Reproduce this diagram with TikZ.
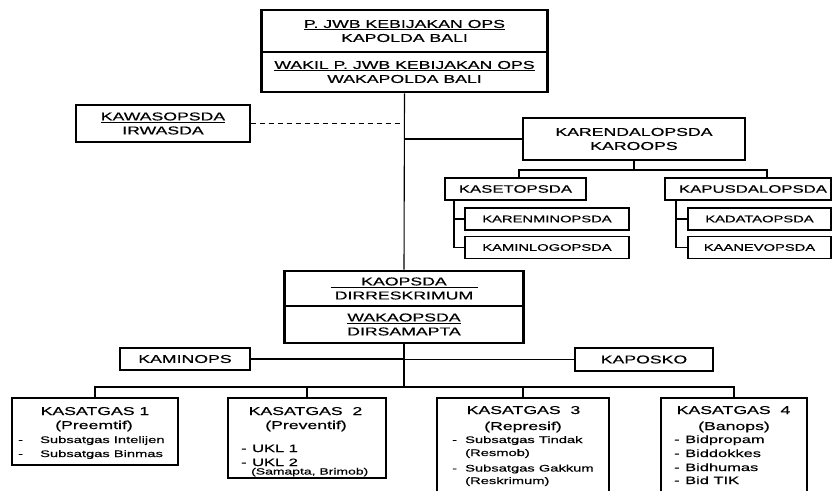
\documentclass[tikz,border=0pt]{standalone}
\usepackage{fontspec}
\setmainfont[FakeStretch=1.55,FakeBold=0.5]{Liberation Sans}
\newcommand\fsA{\fontsize{11.4}{14}\selectfont}
\newcommand\fsK{\fontsize{10.8}{13}\selectfont}
\newcommand\fsB{\fontsize{10.6}{13}\selectfont}
\newcommand\fsC{\fontsize{9.5}{12}\selectfont}
\newcommand\fsS{\fontsize{9}{11}\selectfont}
\begin{document}
\begin{tikzpicture}[x=1pt,y=-1pt,
  box/.style={draw, line width=1.3pt, inner sep=0pt, align=center, font=\fsA},
  thickbox/.style={box, line width=2.6pt},
  lbl/.style={inner sep=0pt},
  conn/.style={line width=1.1pt}]
\path[use as bounding box, fill=white] (0,0) rectangle (832,490);
\clip (0,0) rectangle (832,490);

% top box
\node[thickbox, minimum width=286, minimum height=42] (top1) at (404.5,31) {\underline{P. JWB KEBIJAKAN OPS}\\KAPOLDA BALI};
\node[thickbox, minimum width=286, minimum height=40] (top2) at (404.5,72) {\underline{WAKIL P. JWB KEBIJAKAN OPS}\\WAKAPOLDA BALI};

% inspection
\node[box, minimum width=174, minimum height=37] (wasops) at (163,123.5) {\underline{KAWASOPSDA}\\IRWASDA};

% rendal
\node[thickbox, minimum width=222, minimum height=42] (rendal) at (634,139) {KARENDALOPSDA\\KAROOPS};
\node[box, font=\fsK, minimum width=141, minimum height=22] (setops) at (515.5,189) {KASETOPSDA};
\node[box, font=\fsK, minimum width=166, minimum height=22] (pusdal) at (748,189) {\hspace*{10pt}KAPUSDALOPSDA};
\node[box, font=\fsC, minimum width=164, minimum height=22] (renmin) at (547,219) {KARENMINOPSDA};
\node[box, font=\fsC, minimum width=164, minimum height=22] (minlog) at (547,247.5) {KAMINLOGOPSDA};
\node[box, font=\fsC, minimum width=143, minimum height=22] (datao) at (759.5,219) {KADATAOPSDA};
\node[box, font=\fsC, minimum width=143, minimum height=22] (anev) at (759.5,247.5) {KAANEVOPSDA};

% kaops
\node[thickbox, minimum width=239, minimum height=35] (kaops) at (404,288.5) {\underline{\makebox[147pt]{KAOPSDA}}\\DIRRESKRIMUM};
\node[thickbox, minimum width=239, minimum height=37] (wakaops) at (404,324.5) {\underline{WAKAOPSDA}\\DIRSAMAPTA};

\node[box, minimum width=130, minimum height=22] (minops) at (185,359) {KAMINOPS};
\node[box, minimum width=138, minimum height=23] (posko) at (644,359.5) {KAPOSKO};

% satgas boxes
\node[box, minimum width=166, minimum height=67] (sat1) at (95,431.5) {};
\node[box, minimum width=158, minimum height=80] (sat2) at (307,438) {};
\node[box, minimum width=172, minimum height=120] (sat3) at (523,458) {};
\node[box, minimum width=146, minimum height=120] (sat4) at (734,458) {};

% satgas texts
\node[lbl, font=\fsA, anchor=base] (s1a) at (95,415) {KASATGAS 1};
\node[lbl, font=\fsA, anchor=base] (s1b) at (94,429) {(Preemtif)};
\node[lbl, font=\fsC, anchor=base west] (s1c) at (18,443) {\makebox[22pt][l]{-}Subsatgas Intelijen};
\node[lbl, font=\fsC, anchor=base west] (s1d) at (18,457) {\makebox[22pt][l]{-}Subsatgas Binmas};

\node[lbl, font=\fsA, anchor=base] (s2a) at (305.5,415) {KASATGAS\ \ 2};
\node[lbl, font=\fsA, anchor=base] (s2b) at (306,429) {(Preventif)};
\node[lbl, font=\fsB, anchor=base west] (s2c) at (241,452) {\makebox[11pt][l]{-}UKL 1};
\node[lbl, font=\fsB, anchor=base west] (s2d) at (241,466) {\makebox[11pt][l]{-}UKL 2};
\node[lbl, font=\fsS, anchor=base west] (s2e) at (251,474.5) {(Samapta, Brimob)};

\node[lbl, font=\fsA, anchor=base] (s3a) at (523.5,414) {KASATGAS\ \ 3};
\node[lbl, font=\fsA, anchor=base] (s3b) at (523,430) {(Represif)};
\node[lbl, font=\fsC, anchor=base west] (s3c) at (452,443) {\makebox[13pt][l]{-}Subsatgas Tindak};
\node[lbl, font=\fsC, anchor=base west] (s3d) at (465,456) {(Resmob)};
\node[lbl, font=\fsC, anchor=base west] (s3e) at (452,471.5) {\makebox[13pt][l]{-}Subsatgas Gakkum};
\node[lbl, font=\fsC, anchor=base west] (s3f) at (465,484) {(Reskrimum)};

\node[lbl, font=\fsA, anchor=base] (s4a) at (733.5,414) {KASATGAS\ \ 4};
\node[lbl, font=\fsA, anchor=base] (s4b) at (734,430) {(Banops)};
\node[lbl, font=\fsB, anchor=base west] (s4c) at (674,443) {\makebox[11pt][l]{-}Bidpropam};
\node[lbl, font=\fsB, anchor=base west] (s4d) at (674,457) {\makebox[11pt][l]{-}Biddokkes};
\node[lbl, font=\fsB, anchor=base west] (s4e) at (674,471) {\makebox[11pt][l]{-}Bidhumas};
\node[lbl, font=\fsB, anchor=base west] (s4f) at (674,484) {\makebox[11pt][l]{-}Bid TIK};

% coordinates
\coordinate (bus) at (404,387);
\coordinate (j1) at (519,170);
\coordinate (j2) at (767,170);
\coordinate (sx) at (454,200);
\coordinate (px) at (676,200);

% connectors
\draw[conn] (top2.south) -- (kaops.north);
\draw[conn] (wakaops.south) -- (bus);
\draw[conn, dash pattern=on 5pt off 4pt] (wasops.east) -- (wasops.east -| top2.south);
\draw[conn] (rendal.west) -- (rendal.west -| top2.south);
\draw[conn] (rendal.south) -- (rendal.south |- j1);
\draw[conn] (j1 |- setops.north) -- (j1) -- (j2) -- (j2 |- pusdal.north);
\draw[conn] (sx |- setops.south) |- (minlog.west);
\draw[conn] (sx |- renmin.west) -- (renmin.west);
\draw[conn] (px |- pusdal.south) |- (anev.west);
\draw[conn] (px |- datao.west) -- (datao.west);
\draw[conn] (minops.east) -- (minops.east -| wakaops.south);
\draw[conn] (posko.west) -- (posko.west -| wakaops.south);
\draw[conn] (sat1.north) |- (sat4.north |- bus) -- (sat4.north);
\draw[conn] (sat2.north) -- (sat2.north |- bus);
\draw[conn] (sat3.north) -- (sat3.north |- bus);
\end{tikzpicture}
\end{document}
